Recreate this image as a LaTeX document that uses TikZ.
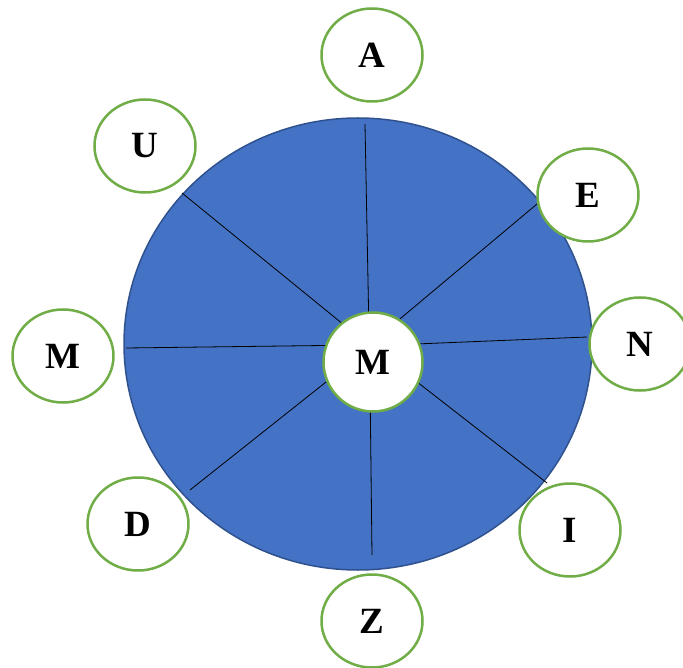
\documentclass[tikz,border=0pt]{standalone}
\usepackage{fontspec}
\setmainfont{Liberation Serif}
\usepackage{xcolor}
\usepackage{tikz}
\usetikzlibrary{
    shapes.geometric
}
\definecolor{wheelBlue}{RGB}{68, 114, 196}
\definecolor{wheelEdge}{RGB}{47, 82, 143}
\definecolor{ringGreen}{RGB}{112, 173, 71}

\begin{document}
\begin{tikzpicture}[x=1pt, y=-1pt,
        letter/.style={ellipse, draw=ringGreen, line width=2.5pt, fill=white,
            minimum width=101pt, minimum height=93pt, inner sep=0pt,
            font=\fontsize{37}{37}\selectfont\bfseries},
        hub/.style={circle, draw=ringGreen, line width=2.5pt, fill=white,
            minimum size=99pt, inner sep=0pt,
            font=\fontsize{37}{37}\selectfont\bfseries},
        spoke/.style={black, line width=0.8pt}]
        \useasboundingbox (0,0) rectangle (683,668);

        % the wheel
        \node[ellipse, draw=wheelEdge, line width=1.5pt, fill=wheelBlue,
            minimum width=468pt, minimum height=452pt] (wheel) at (358,344) {};

        % ends of the spokes on the rim
        \coordinate (rimN)  at (365,124);
        \coordinate (rimNE) at (537,204);
        \coordinate (rimE)  at (587,337);
        \coordinate (rimSE) at (547,483);
        \coordinate (rimS)  at (372,555);
        \coordinate (rimSW) at (190,490);
        \coordinate (rimW)  at (126,348);
        \coordinate (rimNW) at (182,193);

        \node[hub] (hub) at (373,362) {M};

        \draw[spoke] (hub.95)  -- (rimN);
        \draw[spoke] (hub.58)  -- (rimNE);
        \draw[spoke] (hub.21)  -- (rimE);
        \draw[spoke] (hub.-25) -- (rimSE);
        \draw[spoke] (hub.-93) -- (rimS);
        \draw[spoke] (hub.203) -- (rimSW);
        \draw[spoke] (hub.161) -- (rimW);
        \draw[spoke] (hub.129) -- (rimNW);

        % letters round the wheel
        \node[letter] (a) at (372,55)  {A};
        \node[letter] (e) at (588,195) {E};
        \node[letter] (n) at (640,344) {N};
        \node[letter] (i) at (570,530) {I};
        \node[letter] (z) at (372,621) {Z};
        \node[letter] (d) at (138,524) {D};
        \node[letter] (m) at (63,356)  {M};
        \node[letter] (u) at (145,146) {U};
    \end{tikzpicture}
\end{document}
